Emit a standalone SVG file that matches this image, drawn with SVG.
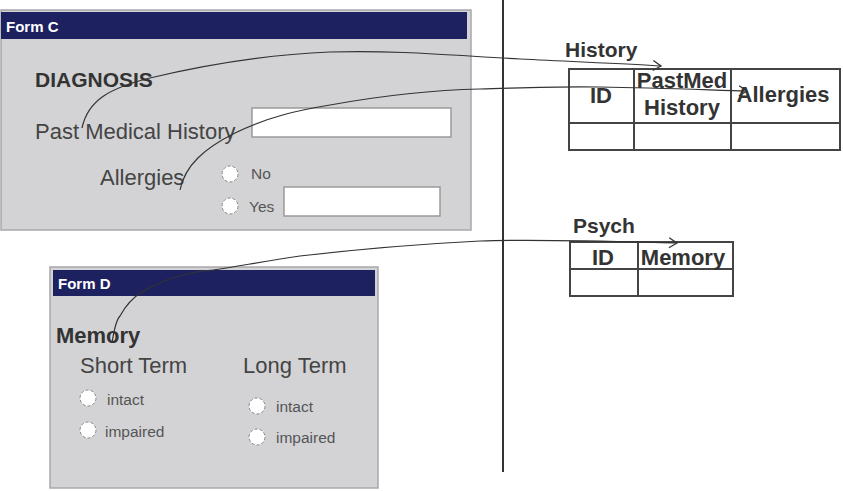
<svg xmlns="http://www.w3.org/2000/svg" width="843" height="491" viewBox="0 0 843 491">
<style>
.panel{fill:#d3d3d5;stroke:#a8a8ac;stroke-width:1.5}
.bar{fill:#1e2160}
.bt{font-family:"Liberation Sans",Arial,sans-serif;font-weight:bold;font-size:15px;fill:#fff}
.lbl{font-family:"Liberation Sans",Arial,sans-serif;fill:#444;font-size:22px}
.hd{font-family:"Liberation Sans",Arial,sans-serif;fill:#333;font-size:21px;font-weight:bold}
.sm{font-family:"Liberation Sans",Arial,sans-serif;fill:#555;font-size:15.5px}
.box{fill:#fff;stroke:#9a9a9a;stroke-width:1.5}
.radio{fill:#fff;stroke:#888;stroke-width:1;stroke-dasharray:3 2}
.tbl{fill:#fff;stroke:#444;stroke-width:2}
.tl{stroke:#444;stroke-width:2}
.th{font-family:"Liberation Sans",Arial,sans-serif;fill:#333;font-size:22px;font-weight:bold}
.conn{fill:none;stroke:#333;stroke-width:1.2}
</style>
<defs>
<marker id="arr" markerWidth="12" markerHeight="12" refX="10" refY="6" orient="auto" markerUnits="userSpaceOnUse">
<path d="M2,1 L10,6 L2,11" fill="none" stroke="#333" stroke-width="1.3"/>
</marker>
</defs>
<rect width="843" height="491" fill="#fff"/>
<line x1="503" y1="0" x2="503" y2="472" stroke="#333" stroke-width="2"/>

<g id="formC">
<rect class="panel" x="1" y="10" width="470" height="220"/>
<rect class="bar" x="1" y="12" width="466" height="27"/>
<text class="bt" x="6" y="32">Form C</text>
<text class="hd" x="35" y="87">DIAGNOSIS</text>
<text class="lbl" x="35" y="139">Past Medical History</text>
<rect class="box" x="252" y="108" width="199" height="29"/>
<text class="lbl" x="100" y="185">Allergies</text>
<circle class="radio" cx="230" cy="174" r="8"/>
<text class="sm" x="251" y="179">No</text>
<circle class="radio" cx="230" cy="206" r="8"/>
<text class="sm" x="249" y="212">Yes</text>
<rect class="box" x="284" y="187" width="156" height="29"/>
</g>

<g id="formD">
<rect class="panel" x="50" y="267" width="328" height="221"/>
<rect class="bar" x="53" y="270" width="322" height="26"/>
<text class="bt" x="58" y="289">Form D</text>
<text class="hd" x="56" y="343" style="font-size:22px">Memory</text>
<text class="lbl" x="80" y="373">Short Term</text>
<text class="lbl" x="243" y="373">Long Term</text>
<circle class="radio" cx="88" cy="398" r="8"/>
<text class="sm" x="107" y="405">intact</text>
<circle class="radio" cx="88" cy="430" r="8"/>
<text class="sm" x="105" y="437">impaired</text>
<circle class="radio" cx="257" cy="406" r="8"/>
<text class="sm" x="276" y="412">intact</text>
<circle class="radio" cx="257" cy="437" r="8"/>
<text class="sm" x="276" y="443">impaired</text>
</g>

<g id="history">
<text class="hd" x="565" y="57">History</text>
<rect class="tbl" x="569" y="69" width="271" height="81"/>
<line class="tl" x1="569" y1="123" x2="840" y2="123"/>
<line class="tl" x1="634" y1="69" x2="634" y2="150"/>
<line class="tl" x1="731" y1="69" x2="731" y2="150"/>
<text class="th" x="601" y="103" text-anchor="middle">ID</text>
<text class="th" x="682" y="88" text-anchor="middle">PastMed</text>
<text class="th" x="682" y="115" text-anchor="middle">History</text>
<text class="th" x="783" y="102" text-anchor="middle">Allergies</text>
</g>

<g id="psych">
<text class="hd" x="573" y="233">Psych</text>
<rect class="tbl" x="570" y="242" width="163" height="54"/>
<line class="tl" x1="570" y1="269" x2="733" y2="269"/>
<line class="tl" x1="638" y1="242" x2="638" y2="296"/>
<text class="th" x="603" y="265" text-anchor="middle">ID</text>
<text class="th" x="683" y="265" text-anchor="middle">Memory</text>
</g>

<g id="connectors">
<path class="conn" marker-end="url(#arr)" d="M82,128 C88,100 110,88 150,78 C200,66 260,55 330,52 C400,50 460,56 520,59 C580,62 630,64 661,66"/>
<path class="conn" marker-end="url(#arr)" d="M180,190 C185,165 205,148 235,133 C270,116 300,110 330,105 C380,96 430,90 480,89 C520,88 560,86 600,87 C660,88 710,90 747,91"/>
<path class="conn" marker-end="url(#arr)" d="M112,343 C114,330 116,320 120,316 C126,305 132,298 142,292 C165,278 190,272 213,270 C240,266 260,262 300,256 C360,249 420,244 480,241 C540,239 600,241 677,243"/>
</g>
</svg>
